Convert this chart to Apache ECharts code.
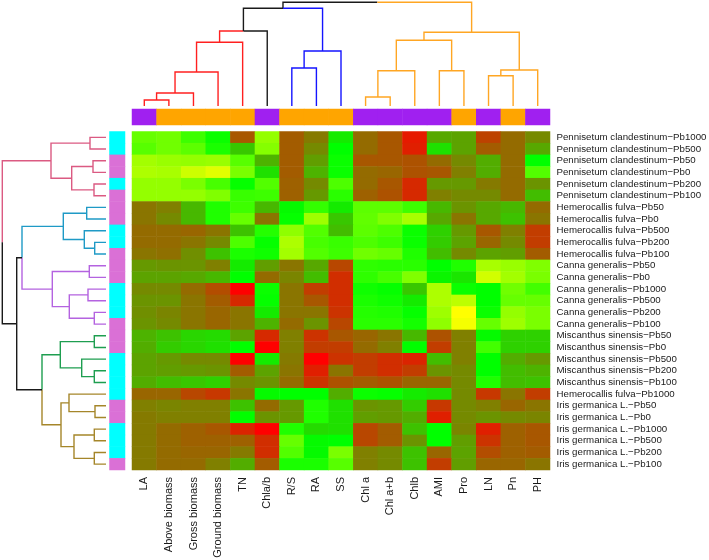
<!DOCTYPE html>
<html><head><meta charset="utf-8">
<style>html,body{margin:0;padding:0;background:#fff}#c{width:709px;height:560px}</style>
<script src="https://cdn.jsdelivr.net/npm/echarts@6/dist/echarts.min.js"></script>
</head><body><div id="c"></div>
<script>
const colLabels = ['LA','Above biomass','Gross biomass','Ground biomass','TN','Chla/b','R/S','RA','SS','Chl a','Chl a+b','Chlb','AMI','Pro','LN','Pn','PH'];
const rowLabels = [
 'Pennisetum clandestinum−Pb1000','Pennisetum clandestinum−Pb500','Pennisetum clandestinum−Pb50','Pennisetum clandestinum−Pb0','Pennisetum clandestinum−Pb200','Pennisetum clandestinum−Pb100',
 'Hemerocallis fulva−Pb50','Hemerocallis fulva−Pb0','Hemerocallis fulva−Pb500','Hemerocallis fulva−Pb200','Hemerocallis fulva−Pb100',
 'Canna generalis−Pb50','Canna generalis−Pb0','Canna generalis−Pb1000','Canna generalis−Pb500','Canna generalis−Pb200','Canna generalis−Pb100',
 'Miscanthus sinensis−Pb50','Miscanthus sinensis−Pb0','Miscanthus sinensis−Pb500','Miscanthus sinensis−Pb200','Miscanthus sinensis−Pb100',
 'Hemerocallis fulva−Pb1000',
 'Iris germanica L.−Pb50','Iris germanica L.−Pb0','Iris germanica L.−Pb1000','Iris germanica L.−Pb500','Iris germanica L.−Pb200','Iris germanica L.−Pb100'];
// scale: 0 = red, 50 = green, 100 = yellow
const pennisetum = [
 [70,72,62,52,17,79,18,24,46,21,17,5,33,32,13,21,27],
 [67,72,68,55,39,76,18,27,50,21,17,6,44,32,18,21,33],
 [82,80,79,80,67,35,18,31,52,17,17,16,21,27,34,21,50],
 [84,83,90,94,74,44,18,35,52,21,20,16,17,25,34,21,66],
 [79,79,74,64,51,66,19,27,65,21,17,8,30,30,24,21,29],
 [79,79,79,75,61,62,19,30,58,19,16,8,25,27,27,21,37]];
const hemerocallis = [
 [23,25,36,56,62,36,49,60,46,68,68,62,36,29,33,36,21],
 [23,27,36,56,70,23,51,81,39,69,75,83,33,23,33,38,23],
 [21,21,20,23,38,57,78,66,37,68,65,52,41,30,17,25,12],
 [21,21,23,27,65,51,84,64,61,65,62,52,40,32,20,27,12],
 [23,22,28,38,55,53,82,66,62,72,70,56,37,27,32,31,18]];
const canna = [
 [30,29,29,25,46,31,23,33,14,59,58,58,50,56,83,80,75],
 [32,32,33,36,50,21,26,37,9,59,64,75,48,45,91,82,74],
 [27,27,21,15,0,52,23,12,9,53,51,39,84,52,50,72,63],
 [29,29,23,18,8,51,23,17,9,55,53,46,84,87,50,70,70],
 [28,26,23,20,23,46,23,23,10,57,56,51,81,100,52,79,74],
 [29,27,23,20,23,35,21,29,14,58,58,54,78,98,70,81,74]];
const miscanthus = [
 [35,38,42,43,32,8,25,10,17,20,23,36,16,25,49,41,41],
 [34,40,42,44,50,0,25,12,12,21,25,50,12,25,63,41,41],
 [32,30,27,27,0,46,24,0,10,12,9,7,37,25,50,34,30],
 [32,31,30,29,18,32,23,6,23,12,9,12,29,27,50,37,35],
 [34,37,39,41,27,29,21,10,16,18,16,20,20,27,56,37,38]];
const hemerocallisPb1000 = [
 [20,20,14,11,23,49,50,50,34,52,51,46,44,27,11,23,12]];
const iris = [
 [25,26,25,25,38,21,30,56,44,29,30,40,11,27,25,20,23],
 [24,25,25,25,50,29,30,56,44,31,30,34,6,27,29,27,26],
 [24,21,19,17,7,0,56,43,44,14,18,38,50,26,6,19,17],
 [24,21,19,19,19,9,70,49,50,14,18,29,50,31,10,19,17],
 [24,21,20,20,24,9,66,49,74,25,27,38,20,32,15,19,18],
 [24,21,21,25,34,18,55,55,67,25,27,38,12,31,20,20,23]];
const cellValues = [...pennisetum,...hemerocallis,...canna,...miscanthus,...hemerocallisPb1000,...iris];
const colGroup = ['P','O','O','O','O','P','O','O','O','P','P','P','P','O','P','O','P'];
const rowGroup = ['C','C','V','V','C','V','V','V','C','C','V','V','V','C','C','C','V','V','V','C','C','C','C','V','V','C','C','C','V'];
const groupColors = {P:'#A020F0',O:'#FFA500',C:'#00FFFF',V:'#DA70D6'};
const BLACK='#1a1a1a',RED='#FF2020',BLUE='#1414FF',ORANGE='#FFA623',PINK='#DB5A82',TEAL='#1F9AC6',PURPLE='#B463E0',GREEN='#1E9E50',GOLD='#A5862A';
// tree: [mergeHeight, colour, left, right]; a bare number is a leaf index
const colTree = [103.7,BLACK,
 [97.7,BLACK,
  [75,BLACK,[63.7,RED,[34,RED,[13,RED,[6,RED,0,1],2],3],4],5],
  [55,BLUE,[38,BLUE,6,7],8]],
 [73.7,ORANGE,
  [65.7,ORANGE,[35.3,ORANGE,[9,ORANGE,9,10],11],[35.3,ORANGE,12,13]],
  [36,ORANGE,[30.3,ORANGE,14,15],16]]];
const rowTree = [103.7,BLACK,
 [55,PINK,[16,PINK,0,1],[34.3,PINK,[13,PINK,2,3],[12,PINK,4,5]]],
 [89.3,BLACK,
  [84,BLACK,
   [42.7,TEAL,[19.3,TEAL,6,7],[21.7,TEAL,8,[11.3,TEAL,9,10]]],
   [53.7,PURPLE,[16.7,PURPLE,11,12],[36.7,PURPLE,[18,PURPLE,13,14],[11.7,PURPLE,15,16]]]],
  [64,BLACK,
   [45.7,GREEN,[11.7,GREEN,17,18],[24.3,GREEN,19,[11.7,GREEN,20,21]]],
   [45,GOLD,[37,GOLD,22,[11,GOLD,23,24]],[32,GOLD,[11.7,GOLD,25,26],[11.7,GOLD,27,28]]]]]];

function treeSegments(tree){
  const byColor={};
  function add(c,pts){(byColor[c]=byColor[c]||[]).push(...pts,['-','-']);}
  function walk(n){
    if(typeof n==='number')return {p:n+0.5,h:0,c:null};
    const a=walk(n[2]),b=walk(n[3]),mid=(a.p+b.p)/2;
    [a,b].forEach(k=>add(k.c||n[1],[[mid,n[0]],[k.p,n[0]],[k.p,k.h]]));
    return {p:mid,h:n[0],c:n[1]};
  }
  walk(tree);return byColor;
}
const hidden={show:false};
const hiddenAxis=(o)=>Object.assign({show:false},o);
const noBounds={outerBoundsMode:'none',containLabel:false};
const grids=[
 {left:132,top:131.5,width:418,height:338.5},
 {left:132,top:109,width:418,height:16},
 {left:109.5,top:131.5,width:15.5,height:338.5},
 {left:132,top:0,width:418,height:106},
 {left:0,top:131.5,width:106,height:338.5}
].map(g=>Object.assign(g,noBounds));
const txt={fontFamily:'Liberation Sans, Arial, sans-serif',color:'#1a1a1a'};
const xAxes=[
 {gridIndex:0,type:'category',data:colLabels,axisLine:hidden,axisTick:hidden,splitLine:hidden,
  axisLabel:Object.assign({rotate:90,interval:0,margin:7,fontSize:11,hideOverlap:false},txt)},
 hiddenAxis({gridIndex:1,type:'category',data:colLabels}),
 hiddenAxis({gridIndex:2,type:'category',data:['g']}),
 hiddenAxis({gridIndex:3,type:'value',min:0,max:17}),
 hiddenAxis({gridIndex:4,type:'value',min:0,max:106,inverse:true})
];
const yAxes=[
 {gridIndex:0,type:'category',data:rowLabels,inverse:true,position:'right',axisLine:hidden,axisTick:hidden,splitLine:hidden,
  axisLabel:Object.assign({interval:0,margin:6.5,fontSize:9.7,hideOverlap:false},txt)},
 hiddenAxis({gridIndex:1,type:'category',data:['g']}),
 hiddenAxis({gridIndex:2,type:'category',data:rowLabels,inverse:true}),
 hiddenAxis({gridIndex:3,type:'value',min:0,max:106}),
 hiddenAxis({gridIndex:4,type:'value',min:0,max:29,inverse:true})
];
const series=[];
const heat=[];
cellValues.forEach((r,y)=>r.forEach((v,x)=>heat.push([x,y,v])));
series.push({type:'heatmap',xAxisIndex:0,yAxisIndex:0,data:heat,progressive:0,animation:false,silent:true,emphasis:{disabled:true}});
series.push({type:'heatmap',xAxisIndex:1,yAxisIndex:1,animation:false,silent:true,emphasis:{disabled:true},
 data:colGroup.map((g,x)=>({value:[x,0,g==='P'?0:1],itemStyle:{color:groupColors[g]}}))});
series.push({type:'heatmap',xAxisIndex:2,yAxisIndex:2,animation:false,silent:true,emphasis:{disabled:true},
 data:rowGroup.map((g,y)=>({value:[0,y,g==='C'?0:1],itemStyle:{color:groupColors[g]}}))});
function addTree(tree,xi,yi,swap){
  const segs=treeSegments(tree);
  Object.keys(segs).forEach(c=>{
    series.push({type:'line',xAxisIndex:xi,yAxisIndex:yi,showSymbol:false,symbol:'none',connectNulls:false,clip:false,
      animation:false,silent:true,lineStyle:{color:c,width:1.4,join:'miter',cap:'butt'},
      data:segs[c].map(p=>swap?[p[1],p[0]]:p)});
  });
}
addTree(colTree,3,3,false);
addTree(rowTree,4,4,true);
const chart=echarts.init(document.getElementById('c'),null,{renderer:'canvas'});
chart.setOption({
 animation:false,backgroundColor:'#fff',
 grid:grids,xAxis:xAxes,yAxis:yAxes,
 visualMap:[
  {type:'continuous',show:false,seriesIndex:0,dimension:2,min:0,max:100,inRange:{color:['#FF0000','#00FF00','#FFFF00']}},
  {type:'piecewise',show:false,seriesIndex:[1,2],dimension:2,pieces:[{value:0},{value:1}]}
 ],
 series:series
});
</script></body></html>
